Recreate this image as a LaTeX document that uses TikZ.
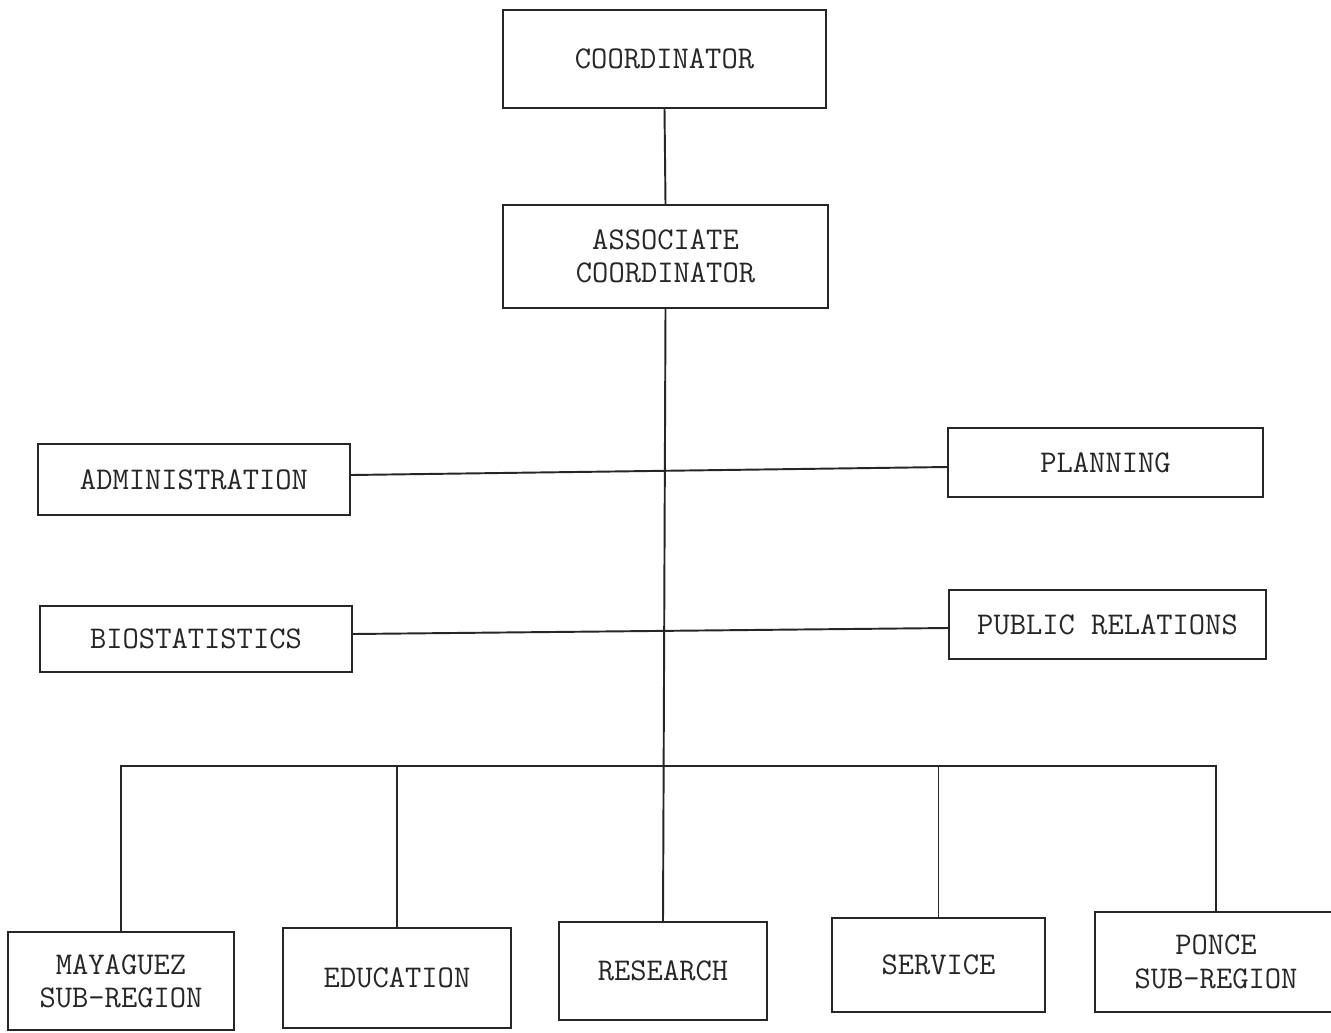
\documentclass[tikz,border=0pt]{standalone}
\begin{document}
\begin{tikzpicture}[x=0.02cm,y=-0.02cm,
  box/.style={draw=black!85, line width=1.1pt, align=center, inner sep=0pt,
    font=\fontsize{18}{19}\selectfont\ttfamily, text=black!85},
  link/.style={draw=black!85, line width=1.1pt}]
\useasboundingbox (0,0) rectangle (1331,1032);
\fill[white] (0,0) rectangle (1331,1032);
\node[box, minimum width=6.46cm, minimum height=1.96cm] (coord) at (664.5,59) {COORDINATOR};
\node[box, minimum width=6.5cm, minimum height=2.06cm] (assoc) at (665.5,256.5) {ASSOCIATE\\COORDINATOR};
\node[box, minimum width=6.24cm, minimum height=1.42cm] (admin) at (194,479.5) {ADMINISTRATION};
\node[box, minimum width=6.3cm, minimum height=1.38cm] (plan) at (1105.5,462.5) {PLANNING};
\node[box, minimum width=6.24cm, minimum height=1.32cm] (bio) at (196,639) {BIOSTATISTICS};
\node[box, minimum width=6.34cm, minimum height=1.38cm] (pr) at (1107.5,624.5) {PUBLIC RELATIONS};
\node[box, minimum width=4.52cm, minimum height=1.96cm] (maya) at (121,981) {MAYAGUEZ\\SUB-REGION};
\node[box, minimum width=4.56cm, minimum height=2.0cm] (edu) at (397,978) {EDUCATION};
\node[box, minimum width=4.16cm, minimum height=1.96cm] (res) at (663,971) {RESEARCH};
\node[box, minimum width=4.26cm, minimum height=1.88cm] (serv) at (938.5,965) {SERVICE};
\node[box, minimum width=4.84cm, minimum height=2.0cm] (ponce) at (1216,962) {PONCE\\SUB-REGION};
\coordinate (bus) at (660,766);
\draw[link] (coord.south) -- (assoc.north);
\draw[link] (assoc.south) -- (res.north);
\draw[link] ([yshift=0.09cm]admin.east) -- ([yshift=-0.09cm]plan.west);
\draw[link] ([yshift=0.1cm]bio.east) -- ([yshift=-0.07cm]pr.west);
\draw[link] (maya.north) |- (bus) -| (ponce.north);
\draw[link] (edu.north) -- (edu.north |- bus);
\draw[link] (serv.north) -- (serv.north |- bus);
\end{tikzpicture}
\end{document}
